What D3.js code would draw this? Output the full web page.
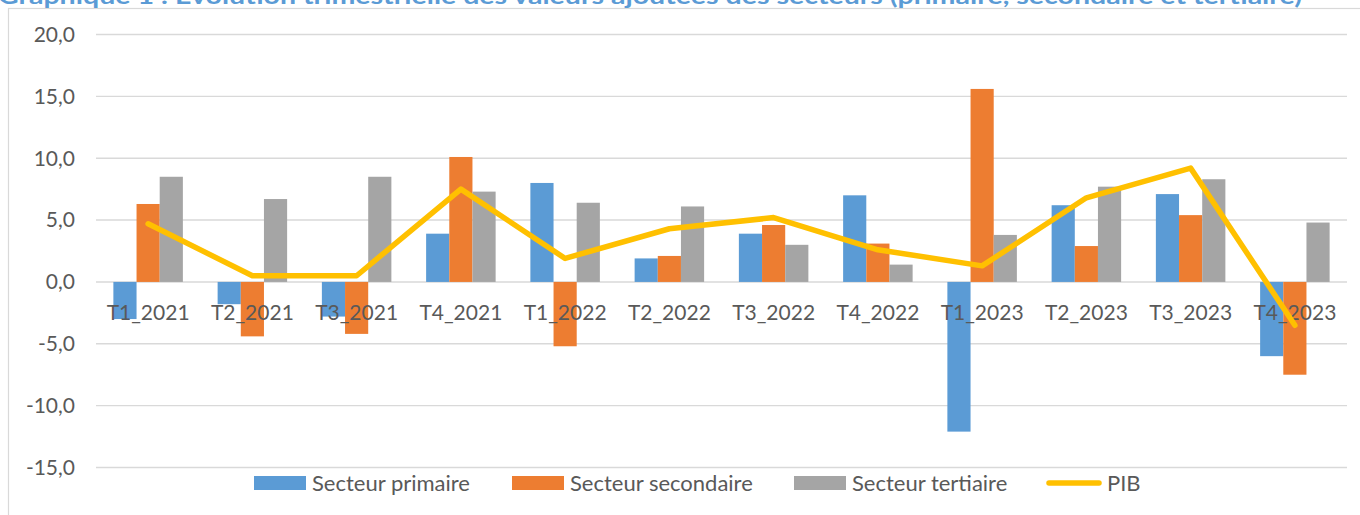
<!DOCTYPE html>
<html>
<head>
<meta charset="utf-8">
<script src="https://cdn.jsdelivr.net/npm/d3@7"></script>
<style>
  body { margin: 0; background: #fff; }
  svg { display: block; font-family: Lato, "Open Sans", sans-serif; }
</style>
</head>
<body>
<svg id="chart" width="1360" height="515"></svg>
<script>
// quarters on the x axis
const quarters = ['T1_2021', 'T2_2021', 'T3_2021', 'T4_2021', 'T1_2022', 'T2_2022',
    'T3_2022', 'T4_2022', 'T1_2023', 'T2_2023', 'T3_2023', 'T4_2023']

// values (%)
const primaire   = [-3.0, -1.8, -2.8, 3.9, 8.0, 1.9, 3.9, 7.0, -12.1, 6.2, 7.1, -6.0]
const secondaire = [6.3, -4.4, -4.2, 10.1, -5.2, 2.1, 4.6, 3.1, 15.6, 2.9, 5.4, -7.5]
const tertiaire  = [8.5, 6.7, 8.5, 7.3, 6.4, 6.1, 3.0, 1.4, 3.8, 7.7, 8.3, 4.8]
const pib        = [4.7, 0.5, 0.5, 7.5, 1.9, 4.3, 5.2, 2.6, 1.3, 6.8, 9.2, -3.5]

const yTicks = [-15, -10, -5, 0, 5, 10, 15, 20]
const seriesNames = ['Secteur primaire', 'Secteur secondaire', 'Secteur tertiaire']
const colors = ['#5B9BD5', '#ED7D31', '#A5A5A5']
const lineColor = '#FFC000'
const title = 'Graphique 1 : Evolution trimestrielle des valeurs ajoutées des secteurs (primaire, secondaire et tertiaire)'

const barSeries = [primaire, secondaire, tertiaire]
const svg = d3.select('#chart')

// chart frame (cut off on the right and bottom)
svg.append('rect')
    .attr('x', 8.5).attr('y', 8.5)
    .attr('width', 1400).attr('height', 600)
    .attr('fill', 'none')
    .attr('stroke', '#D9D9D9')
    .attr('stroke-width', 1.2)

// title, cropped at the top like in the source document
svg.append('text')
    .attr('x', -2).attr('y', 4)
    .attr('fill', '#5B9BD5')
    .attr('font-weight', 'bold')
    .attr('font-size', 22)
    .attr('textLength', 1304)
    .attr('lengthAdjust', 'spacingAndGlyphs')
    .text(title)

const x = d3.scaleBand().domain(quarters).range([96, 1347]).padding(0)
const x1 = d3.scaleBand().domain(d3.range(3)).range([0, x.bandwidth()])
    .paddingInner(0).paddingOuter(0.75)
const y = d3.scaleLinear().domain([-15, 20]).range([467.5, 34.5])

// horizontal gridlines
svg.append('g').selectAll('line')
    .data(yTicks).enter().append('line')
    .attr('x1', 96).attr('x2', 1347)
    .attr('y1', d => y(d)).attr('y2', d => y(d))
    .attr('stroke', '#D9D9D9')
    .attr('stroke-width', 1.4)

// y tick labels
const fmt = d => d3.format('.1f')(d).replace('.', ',').replace('−', '-')
svg.append('g').selectAll('text')
    .data(yTicks).enter().append('text')
    .attr('x', 75).attr('y', d => y(d))
    .attr('dy', '0.35em')
    .attr('text-anchor', 'end')
    .attr('font-size', 21)
    .attr('fill', '#595959')
    .text(fmt)

// bars
barSeries.forEach((vals, s) => {
    svg.append('g').selectAll('rect')
        .data(vals).enter().append('rect')
        .attr('x', (d, i) => x(quarters[i]) + x1(s))
        .attr('width', x1.bandwidth())
        .attr('y', d => y(Math.max(0, d)))
        .attr('height', d => Math.abs(y(d) - y(0)))
        .attr('fill', colors[s])
})

// category labels
svg.append('g').selectAll('text')
    .data(quarters).enter().append('text')
    .attr('x', d => x(d) + x.bandwidth() / 2)
    .attr('y', y(0) + 31)
    .attr('dy', '0.35em')
    .attr('text-anchor', 'middle')
    .attr('font-size', 21)
    .attr('fill', '#595959')
    .text(d => d)

// PIB line
const line = d3.line()
    .x((d, i) => x(quarters[i]) + x.bandwidth() / 2)
    .y(d => y(d))
svg.append('path')
    .datum(pib)
    .attr('d', line)
    .attr('fill', 'none')
    .attr('stroke', lineColor)
    .attr('stroke-width', 5.5)
    .attr('stroke-linejoin', 'round')
    .attr('stroke-linecap', 'round')

// legend
const legY = 483
const legItems = [
    {name: seriesNames[0], color: colors[0], x: 254, type: 'bar'},
    {name: seriesNames[1], color: colors[1], x: 512, type: 'bar'},
    {name: seriesNames[2], color: colors[2], x: 794, type: 'bar'},
    {name: 'PIB', color: lineColor, x: 1049, type: 'line'}
]
const leg = svg.append('g').selectAll('g')
    .data(legItems).enter().append('g')
    .attr('transform', d => `translate(${d.x},${legY})`)
leg.filter(d => d.type === 'bar').append('rect')
    .attr('x', 0).attr('y', -7)
    .attr('width', 52).attr('height', 14)
    .attr('fill', d => d.color)
leg.filter(d => d.type === 'line').append('line')
    .attr('x1', 0).attr('x2', 50)
    .attr('y1', 0).attr('y2', 0)
    .attr('stroke', d => d.color)
    .attr('stroke-width', 5.5)
    .attr('stroke-linecap', 'round')
leg.append('text')
    .attr('x', 58)
    .attr('y', 0)
    .attr('dy', '0.35em')
    .attr('font-size', 22)
    .attr('fill', '#595959')
    .text(d => d.name)
</script>
</body>
</html>
